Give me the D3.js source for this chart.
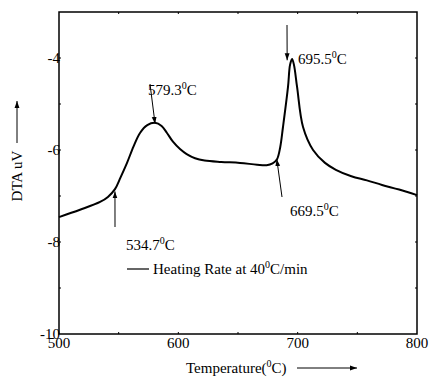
<!DOCTYPE html>
<html>
<head>
<meta charset="utf-8">
<script src="https://cdn.jsdelivr.net/npm/d3@7"></script>
<style>
  body { margin: 0; background: #fff; }
  text { font-family: "Liberation Serif", "Times New Roman", serif; fill: #000; }
</style>
</head>
<body>
<script>
// DTA curve (temperature in C, signal in uV)
const temps = [500, 517.6, 534.4, 541, 546.9, 551.5, 557, 562.5, 567.9, 574, 580.5, 586, 590.5, 595.5, 601.4, 607, 614, 622, 636, 651.7, 666, 674, 679, 682.7, 685.3, 687.7, 691.9, 693.6, 695.3, 696.9, 699.5, 704.5, 712.9, 722.9, 732, 745, 758, 770.7, 785, 800];
const dta = [-7.46, -7.30, -7.13, -7.02, -6.85, -6.6, -6.28, -5.92, -5.63, -5.46, -5.41, -5.48, -5.63, -5.82, -5.98, -6.09, -6.18, -6.23, -6.26, -6.28, -6.32, -6.33, -6.29, -6.2, -5.95, -5.50, -4.63, -4.15, -4.02, -4.15, -4.63, -5.50, -6.0, -6.28, -6.43, -6.57, -6.66, -6.76, -6.86, -6.98];

const xTicks = [500, 600, 700, 800];
const yTicks = [-10, -8, -6, -4];

// annotations: arrow start (px), arrow target (temperature, uV), label and its position
const notes = [
  { from: [150, 84], t: 580.5, v: -5.43, label: "579.3", lx: 148, ly: 95 },
  { from: [287, 25], t: 691.2, v: -4.05, label: "695.5", lx: 298, ly: 64 },
  { from: [282, 197], t: 682.5, v: -6.2, label: "669.5", lx: 290, ly: 216 },
  { from: [115, 227], t: 546.9, v: -6.9, label: "534.7", lx: 126, ly: 250 }
];

const W = 429, H = 383;
const m = { left: 59, right: 12, top: 12, bottom: 49 };

const svg = d3.select("body").append("svg").attr("width", W).attr("height", H);

svg.append("defs").append("marker")
  .attr("id", "ah").attr("viewBox", "0 0 10 10")
  .attr("refX", 10).attr("refY", 5)
  .attr("markerWidth", 7).attr("markerHeight", 7)
  .attr("markerUnits", "userSpaceOnUse")
  .attr("orient", "auto")
  .append("path").attr("d", "M0,1.5L10,5L0,8.5Z").attr("fill", "#000");

const x = d3.scaleLinear().domain([500, 800]).range([m.left, W - m.right]);
const y = d3.scaleLinear().domain([-10, -3]).range([H - m.bottom, m.top]);

// frame
svg.append("rect")
  .attr("x", x(500)).attr("y", y(-3))
  .attr("width", x(800) - x(500)).attr("height", y(-10) - y(-3))
  .attr("fill", "none").attr("stroke", "#000").attr("stroke-width", 1.5);

// small inside ticks on all four sides
const minorX = d3.range(550, 800, 50);
const minorY = d3.range(-9, -3, 1);
const tk = svg.append("g").attr("stroke", "#000").attr("stroke-width", 1);
minorX.forEach(v => {
  tk.append("line").attr("x1", x(v)).attr("x2", x(v)).attr("y1", y(-10)).attr("y2", y(-10) - 2);
  tk.append("line").attr("x1", x(v)).attr("x2", x(v)).attr("y1", y(-3)).attr("y2", y(-3) + 2);
});
minorY.forEach(v => {
  tk.append("line").attr("x1", x(500)).attr("x2", x(500) + 2).attr("y1", y(v)).attr("y2", y(v));
  tk.append("line").attr("x1", x(800)).attr("x2", x(800) - 2).attr("y1", y(v)).attr("y2", y(v));
});

// tick labels
svg.append("g").selectAll("text").data(xTicks).join("text")
  .attr("x", d => x(d)).attr("y", y(-10) + 14)
  .attr("text-anchor", "middle").attr("font-size", 15)
  .text(d => d);

svg.append("g").selectAll("text").data(yTicks).join("text")
  .attr("x", x(500) + 1).attr("y", d => y(d) + 5)
  .attr("text-anchor", "end").attr("font-size", 15)
  .text(d => d);

// the curve
const pts = temps.map((t, i) => [t, dta[i]]);
const line = d3.line().x(d => x(d[0])).y(d => y(d[1])).curve(d3.curveCatmullRom.alpha(0.5));
svg.append("path").datum(pts).attr("d", line)
  .attr("fill", "none").attr("stroke", "#000").attr("stroke-width", 2);

// annotations
notes.forEach(n => {
  svg.append("line")
    .attr("x1", n.from[0]).attr("y1", n.from[1])
    .attr("x2", x(n.t)).attr("y2", y(n.v))
    .attr("stroke", "#000").attr("stroke-width", 1)
    .attr("marker-end", "url(#ah)");
  const tx = svg.append("text").attr("x", n.lx).attr("y", n.ly).attr("font-size", 15);
  tx.append("tspan").text(n.label);
  tx.append("tspan").attr("dy", -6).attr("font-size", 10).text("0");
  tx.append("tspan").attr("dy", 6).text("C");
});

// legend
svg.append("line").attr("x1", 127).attr("x2", 149).attr("y1", 269).attr("y2", 269)
  .attr("stroke", "#000").attr("stroke-width", 1.2);
const lg = svg.append("text").attr("x", 153).attr("y", 274).attr("font-size", 15);
lg.append("tspan").text("Heating Rate at 40");
lg.append("tspan").attr("dy", -6).attr("font-size", 10).text("0");
lg.append("tspan").attr("dy", 6).text("C/min");

// x axis title with arrow
const xt = svg.append("text").attr("x", 186).attr("y", 373).attr("font-size", 15);
xt.append("tspan").text("Temperature(");
xt.append("tspan").attr("dy", -6).attr("font-size", 10).text("0");
xt.append("tspan").attr("dy", 6).text("C)");
svg.append("line").attr("x1", 297).attr("x2", 357).attr("y1", 368).attr("y2", 368)
  .attr("stroke", "#000").attr("stroke-width", 1).attr("marker-end", "url(#ah)");

// y axis title with arrow
svg.append("text")
  .attr("transform", "translate(22,176) rotate(-90)")
  .attr("text-anchor", "middle").attr("font-size", 15)
  .text("DTA uV");
svg.append("line").attr("x1", 17).attr("x2", 17).attr("y1", 143).attr("y2", 101)
  .attr("stroke", "#000").attr("stroke-width", 1).attr("marker-end", "url(#ah)");
</script>
</body>
</html>
